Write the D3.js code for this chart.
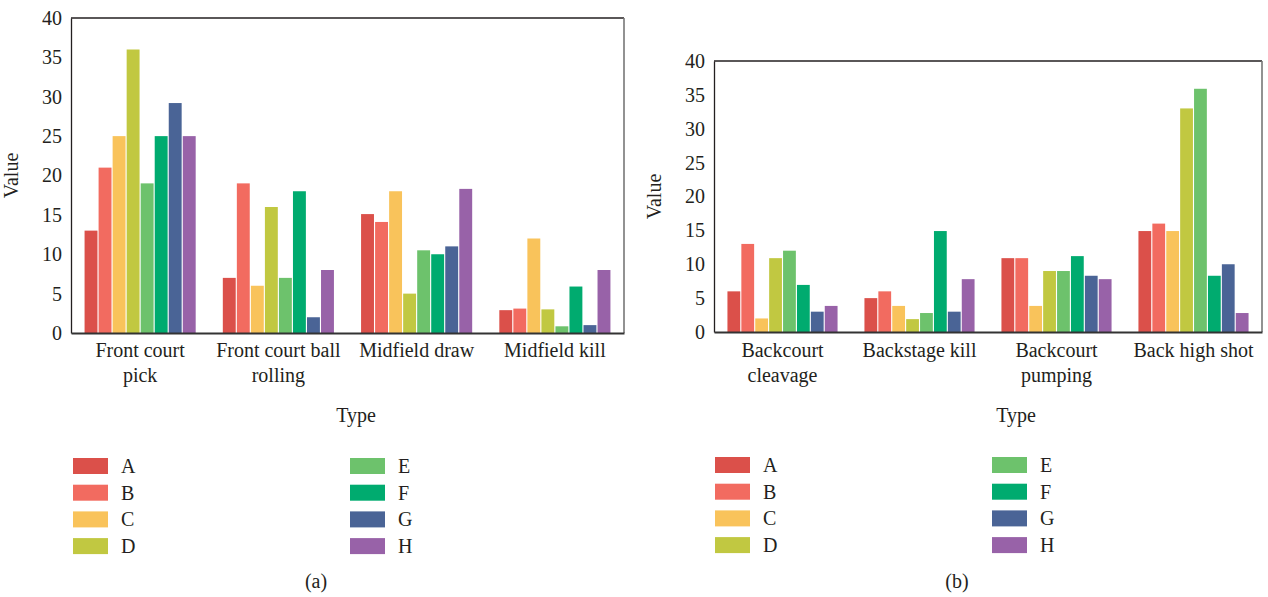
<!DOCTYPE html>
<html>
<head>
<meta charset="utf-8">
<script src="https://cdn.jsdelivr.net/npm/d3@7"></script>
<style>
  body { margin: 0; background: #fff; }
  text { font-family: "Liberation Serif", "DejaVu Serif", serif; fill: #231f20; }
</style>
</head>
<body>
<svg id="chart" width="1268" height="597"></svg>
<script>
// series names and colours
var series = ["A", "B", "C", "D", "E", "F", "G", "H"];
var colors = ["#db504a", "#f26b60", "#f9c35b", "#c1c841", "#6dc26c", "#00ab6f", "#4a6496", "#9862a8"];
var yTicks = [0, 5, 10, 15, 20, 25, 30, 35, 40];

// chart (a)
var catsA = ["Front court pick", "Front court ball rolling", "Midfield draw", "Midfield kill"];
var labelsA = [["Front court", "pick"], ["Front court ball", "rolling"], ["Midfield draw"], ["Midfield kill"]];
var valuesA = [
  [13, 21, 25, 36, 19, 25, 29.2, 25],
  [7, 19, 6, 16, 7, 18, 2, 8],
  [15.1, 14.1, 18, 5, 10.5, 10, 11, 18.3],
  [2.9, 3.1, 12, 3, 0.85, 5.9, 1, 8]
];

// chart (b)
var catsB = ["Backcourt cleavage", "Backstage kill", "Backcourt pumping", "Back high shot"];
var labelsB = [["Backcourt", "cleavage"], ["Backstage kill"], ["Backcourt", "pumping"], ["Back high shot"]];
var valuesB = [
  [6, 13, 2, 10.9, 12, 6.95, 3, 3.85],
  [5, 6, 3.85, 1.9, 2.8, 14.9, 3, 7.8],
  [10.9, 10.9, 3.85, 9, 9, 11.2, 8.3, 7.8],
  [14.9, 16, 14.9, 33, 35.9, 8.3, 10, 2.8]
];

var svg = d3.select("#chart");
var fs = 20;

function drawChart(opt) {
  var g = svg.append("g").attr("transform", "translate(" + opt.left + "," + opt.top + ")");
  var w = opt.width, h = opt.height;

  var x0 = d3.scaleBand().domain(opt.cats).range([0, w]).paddingInner(0.18).paddingOuter(0.09);
  var x1 = d3.scaleBand().domain(series).range([0, x0.bandwidth()]).padding(0.08);
  var y = d3.scaleLinear().domain([0, 40]).range([h, 0]);

  // bars
  g.selectAll("g.grp")
    .data(opt.values)
    .enter().append("g")
      .attr("class", "grp")
      .attr("transform", function(d, i) { return "translate(" + x0(opt.cats[i]) + ",0)"; })
    .selectAll("rect")
    .data(function(d) { return d; })
    .enter().append("rect")
      .attr("x", function(d, i) { return x1(series[i]); })
      .attr("y", function(d) { return y(d); })
      .attr("width", x1.bandwidth())
      .attr("height", function(d) { return h - y(d); })
      .attr("fill", function(d, i) { return colors[i]; });

  // box
  g.append("line").attr("x1", 0).attr("x2", w).attr("y1", 0).attr("y2", 0)
    .attr("stroke", "#231f20").attr("stroke-width", 1.3);
  g.append("line").attr("x1", w).attr("x2", w).attr("y1", 0).attr("y2", h)
    .attr("stroke", "#777").attr("stroke-width", 1.6);

  // y axis
  var yAxis = g.append("g").call(d3.axisLeft(y).tickValues(yTicks).tickSize(0).tickPadding(9));
  yAxis.select(".domain").attr("stroke", "#231f20").attr("stroke-width", 1.3);
  yAxis.selectAll("text").attr("font-size", fs).style("font-family", "Liberation Serif").attr("fill", "#231f20");

  // x axis
  var xAxis = g.append("g").attr("transform", "translate(0," + h + ")")
    .call(d3.axisBottom(x0).tickSize(0).tickFormat(""));
  xAxis.select(".domain").attr("stroke", "#333").attr("stroke-width", 2.2);

  g.selectAll("text.cat")
    .data(opt.cats)
    .enter().append("text")
      .attr("class", "cat")
      .attr("text-anchor", "middle")
      .attr("font-size", fs)
      .attr("transform", function(d) { return "translate(" + (x0(d) + x0.bandwidth() / 2) + "," + (357 - opt.top) + ")"; })
    .selectAll("tspan")
    .data(function(d, i) { return opt.labels[i]; })
    .enter().append("tspan")
      .attr("x", 0)
      .attr("dy", function(d, i) { return i === 0 ? 0 : 25; })
      .text(function(d) { return d; });

  // axis titles
  g.append("text")
    .attr("transform", "translate(" + opt.yLabelX + "," + (h / 2) + ") rotate(-90)")
    .attr("text-anchor", "middle")
    .attr("font-size", fs)
    .text("Value");
  svg.append("text")
    .attr("x", opt.typeX)
    .attr("y", 422)
    .attr("text-anchor", "middle")
    .attr("font-size", fs)
    .text("Type");

  // legend
  var leg = svg.append("g");
  series.forEach(function(s, i) {
    var col = Math.floor(i / 4), row = i % 4;
    var lx = opt.legX[col], ly = opt.legY + row * 26.7;
    leg.append("rect").attr("x", lx).attr("y", ly).attr("width", 35).attr("height", 16).attr("fill", colors[i]);
    leg.append("text").attr("x", lx + 48).attr("y", ly + 15).attr("font-size", fs).text(s);
  });

  svg.append("text")
    .attr("x", opt.capX)
    .attr("y", 588)
    .attr("text-anchor", "middle")
    .attr("font-size", fs)
    .text(opt.caption);
}

drawChart({
  left: 71, top: 18, width: 553, height: 315,
  cats: catsA, labels: labelsA, values: valuesA,
  yLabelX: -53, typeX: 356, legX: [73, 350], legY: 458, capX: 316, caption: "(a)"
});

drawChart({
  left: 714, top: 61, width: 548, height: 271,
  cats: catsB, labels: labelsB, values: valuesB,
  yLabelX: -53, typeX: 1016, legX: [715, 992], legY: 457, capX: 957, caption: "(b)"
});
</script>
</body>
</html>
